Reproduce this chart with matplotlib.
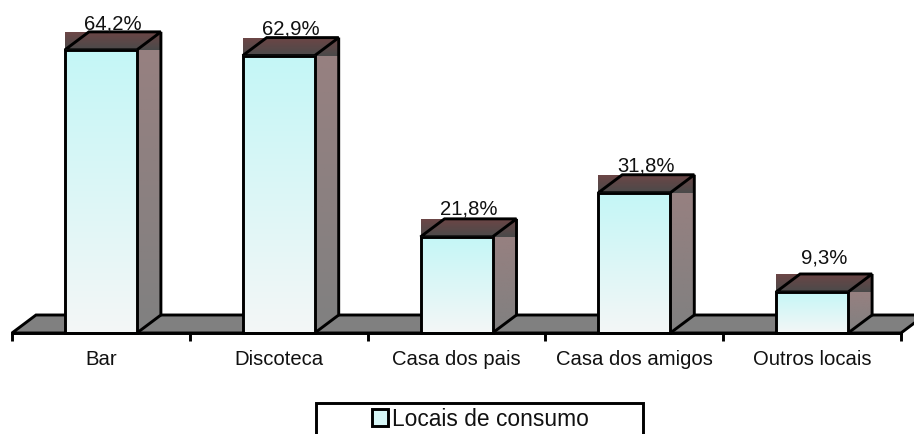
import numpy as np
import matplotlib
matplotlib.use("Agg")
import matplotlib.pyplot as plt
from matplotlib.colors import LinearSegmentedColormap
from matplotlib.patches import Polygon, Rectangle, Patch
from matplotlib.ticker import NullFormatter

plt.rcParams['font.family'] = ['Liberation Sans', 'DejaVu Sans']

categories = ["Bar", "Discoteca", "Casa dos pais", "Casa dos amigos", "Outros locais"]
values = [64.2, 62.9, 21.8, 31.8, 9.3]
labels = ["64,2%", "62,9%", "21,8%", "31,8%", "9,3%"]
series_name = "Locais de consumo"

W, H = 914, 434
fig = plt.figure(figsize=(W / 100, H / 100), dpi=100)
base_px = 333
ax = fig.add_axes([12 / W, (H - base_px) / H, (901 - 12) / W, base_px / H])
px_per_unit = 4.41
ax.set_xlim(0, len(categories))
ax.set_ylim(0, base_px / px_per_unit)
ax.patch.set_alpha(0)

px_per_cat = (901 - 12) / len(categories)
dx = 24 / px_per_cat
dy = 18 / px_per_unit
bar_w = 72 / px_per_cat
LW = 2.1
label_pad = [2.0, 2.0, 3.4, 2.7, 7.8]

front_cm = LinearSegmentedColormap.from_list("front", ["#c4f6f6", "#f4f7f7"])
side_cm = LinearSegmentedColormap.from_list("side", ["#978080", "#808080"])
top_cm = LinearSegmentedColormap.from_list("top", ["#6c4646", "#4a4a4a"])
grad = np.linspace(0, 1, 256).reshape(-1, 1)


def gradient(x0, x1, y0, y1, cmap, z, clip=None):
    im = ax.imshow(grad, extent=(x0, x1, y0, y1), origin="upper", aspect="auto",
                   cmap=cmap, zorder=z, clip_on=False)
    if clip is not None:
        im.set_clip_path(clip)
        im.set_clip_on(True)


# floor
n = len(categories)
ax.add_patch(Polygon([(0, 0), (dx, dy), (n + dx, dy), (n, 0)], closed=True,
                     facecolor="#808080", edgecolor="black", lw=LW,
                     joinstyle="miter", zorder=1, clip_on=False))

for i, v in enumerate(values):
    x0 = i + 0.5 - bar_w / 2
    x1 = x0 + bar_w
    z = 2 + i
    # side
    side = Polygon([(x1, 0), (x1 + dx, dy), (x1 + dx, v), (x1, v)], closed=True,
                   transform=ax.transData)
    gradient(x1, x1 + dx, 0, v, side_cm, z, clip=side)
    # top: gradient fills the whole bounding box of the parallelogram
    gradient(x0, x1 + dx, v, v + dy, top_cm, z + 0.2)
    ax.add_patch(Polygon([(x1, 0), (x1 + dx, dy), (x1 + dx, v + dy)], closed=False,
                         fill=False, edgecolor="black", lw=LW, zorder=z + 0.3, clip_on=False))
    ax.add_patch(Polygon([(x0, v), (x0 + dx, v + dy), (x1 + dx, v + dy), (x1, v)], closed=True,
                         fill=False, edgecolor="black", lw=LW, zorder=z + 0.4, clip_on=False))
    # front
    gradient(x0, x1, 0, v, front_cm, z + 0.5)
    ax.add_patch(Rectangle((x0, 0), bar_w, v, fill=False, edgecolor="black", lw=LW,
                           zorder=z + 0.6, clip_on=False))
    ax.annotate(labels[i], (x0 + (bar_w + dx) / 2, v + dy), xytext=(0, label_pad[i]),
                textcoords="offset points", ha="center", va="baseline",
                fontsize=14.6, color="#111111", zorder=20, annotation_clip=False)

ax.set_xlim(0, n)
ax.set_ylim(0, base_px / px_per_unit)

for s in ["top", "left", "right"]:
    ax.spines[s].set_visible(False)
ax.spines["bottom"].set_linewidth(LW)
ax.spines["bottom"].set_zorder(15)
ax.set_yticks([])
ax.set_xticks(np.arange(n + 1))
ax.xaxis.set_major_formatter(NullFormatter())
ax.tick_params(axis="x", which="major", length=5.5, width=LW)
ax.set_xticks(np.arange(n) + 0.5, minor=True)
ax.set_xticklabels(categories, minor=True, fontsize=14.6, color="#111111")
ax.tick_params(axis="x", which="minor", length=0, pad=12.5)

# legend, its frame runs off the bottom of the figure
fig.add_artist(Rectangle((316 / W, -20 / H), 327 / W, (H - 403 + 20) / H,
                         transform=fig.transFigure, facecolor="white",
                         edgecolor="black", lw=LW))
handle = Patch(facecolor="#d6f6f6", edgecolor="black", lw=LW, label=series_name)
leg = fig.legend(handles=[handle], loc="center left",
                 bbox_to_anchor=(372 / W, (H - 419) / H), frameon=False,
                 fontsize=16.4, borderpad=0, borderaxespad=0, handlelength=0.72,
                 handleheight=0.72, handletextpad=0.18, labelcolor="#111111")

fig.savefig("out.png", dpi=100)
